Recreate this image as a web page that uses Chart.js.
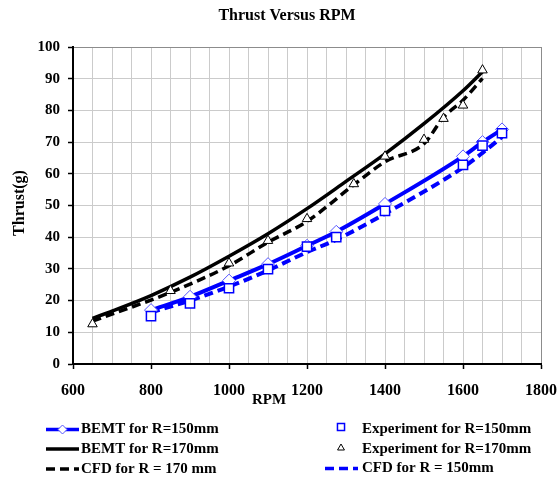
<!DOCTYPE html>
<html>
<head>
<meta charset="utf-8">
<title>Thrust Versus RPM</title>
<script src="https://cdn.jsdelivr.net/npm/chart.js@4.4.1/dist/chart.umd.min.js"></script>
<style>
  html, body { margin: 0; padding: 0; background: #fff; }
  #wrap { width: 558px; height: 480px; }
</style>
</head>
<body>
<div id="wrap"><canvas id="thrustChart" width="558" height="480"></canvas></div>
<script>
// values
const rpm150 = [800, 900, 1000, 1100, 1200, 1275, 1400, 1600, 1650, 1700];
const bemt150 = [17.0, 21.2, 26.3, 31.5, 37.3, 41.7, 50.5, 65.5, 70.0, 74.0];
const exp150 = [15.1, 19.1, 23.9, 29.9, 37.0, 40.0, 48.3, 62.8, 68.9, 72.8];
const cfd150 = [16.3, 20.0, 24.4, 29.5, 35.3, 39.2, 47.4, 62.0, 66.6, 71.6];

const rpmBemt170 = [650, 700, 800, 900, 1000, 1100, 1200, 1300, 1400, 1500, 1600, 1650];
const bemt170 = [14.4, 16.7, 21.6, 27.4, 34.0, 41.1, 49.0, 57.6, 66.3, 75.8, 86.2, 92.2];

const rpm170 = [650, 850, 1000, 1100, 1200, 1320, 1400, 1500, 1550, 1600, 1650];
const exp170 = [12.6, 23.1, 31.8, 38.9, 45.8, 56.8, 65.5, 70.8, 77.4, 81.6, 92.7];
const cfd170 = [13.5, 22.6, 31.0, 38.4, 45.0, 56.5, 63.8, 69.5, 77.8, 83.2, 90.1];

const xLabels = [600, 800, 1000, 1200, 1400, 1600, 1800];
const chartTitle = 'Thrust Versus RPM';
const xTitle = 'RPM';
const yTitle = 'Thrust(g)';

const serif = '"Liberation Serif", "Times New Roman", serif';
const pts = (xs, ys) => xs.map((x, i) => ({x: x, y: ys[i]}));

// legend slots, same order as datasets
const legendSlots = [
  {x: 46, y: 429.5, mx: 62.5, tx: 81},
  {x: 0, y: 429.5, mx: 341, my: 427, tx: 362},
  {x: 46, y: 449, tx: 81},
  {x: 0, y: 449, mx: 341, my: 448, tx: 362},
  {x: 46, y: 469, tx: 81},
  {x: 325, y: 468.5, tx: 362}
];

const textLayer = {
  id: 'textLayer',
  afterDraw(chart) {
    const ctx = chart.ctx;
    ctx.save();
    ctx.fillStyle = '#000';
    ctx.textBaseline = 'middle';
    ctx.textAlign = 'center';
    ctx.font = 'bold 16px ' + serif;
    ctx.fillText(chartTitle, 287, 16);
    ctx.font = 'bold 15px ' + serif;
    ctx.fillText(xTitle, 269, 400);
    ctx.save();
    ctx.translate(20, 203);
    ctx.rotate(-Math.PI / 2);
    ctx.font = 'bold 16px ' + serif;
    ctx.fillText(yTitle, 0, 0);
    ctx.restore();

    // legend
    chart.data.datasets.forEach((ds, i) => {
      const s = legendSlots[i];
      if (ds.showLine !== false) {
        ctx.save();
        ctx.strokeStyle = ds.borderColor;
        ctx.lineWidth = 3.5;
        ctx.setLineDash(ds.borderDash || []);
        ctx.beginPath();
        ctx.moveTo(s.x, s.y);
        ctx.lineTo(s.x + 33, s.y);
        ctx.stroke();
        ctx.restore();
      }
      if (ds.pointRadius > 0) {
        ctx.save();
        ctx.fillStyle = ds.pointBackgroundColor;
        ctx.strokeStyle = ds.pointBorderColor;
        ctx.lineWidth = ds.pointBorderWidth;
        Chart.helpers.drawPoint(ctx, {
          pointStyle: ds.pointStyle,
          radius: ds.legendRadius,
          rotation: 0,
          borderWidth: ds.pointBorderWidth
        }, s.mx, s.my || s.y);
        ctx.restore();
      }
      ctx.textAlign = 'left';
      ctx.font = 'bold 15px ' + serif;
      ctx.fillText(ds.label, s.tx, s.y);
    });
    ctx.restore();
  }
};

new Chart(document.getElementById('thrustChart'), {
  type: 'line',
  data: {
    datasets: [
      {
        label: 'BEMT for R=150mm',
        data: pts(rpm150, bemt150),
        borderColor: '#0000ff',
        borderWidth: 4,
        pointStyle: 'rectRot',
        pointRadius: 6.5,
        legendRadius: 4.5,
        pointBackgroundColor: '#ffffff',
        pointBorderColor: '#5555ff',
        pointBorderWidth: 1,
        cubicInterpolationMode: 'monotone',
        order: 3
      },
      {
        label: 'Experiment for R=150mm',
        data: pts(rpm150, exp150),
        showLine: false,
        pointStyle: 'rect',
        pointRadius: 6.5,
        legendRadius: 5,
        pointBackgroundColor: '#ffffff',
        pointBorderColor: '#0000ff',
        pointBorderWidth: 1.5,
        order: 1
      },
      {
        label: 'BEMT for R=170mm',
        data: pts(rpmBemt170, bemt170),
        borderColor: '#000000',
        borderWidth: 3.5,
        pointRadius: 0,
        cubicInterpolationMode: 'monotone',
        order: 4
      },
      {
        label: 'Experiment for R=170mm',
        data: pts(rpm170, exp170),
        showLine: false,
        pointStyle: 'triangle',
        pointRadius: 5.5,
        legendRadius: 4,
        pointBackgroundColor: '#ffffff',
        pointBorderColor: '#000000',
        pointBorderWidth: 1,
        order: 2
      },
      {
        label: 'CFD for R = 170 mm',
        data: pts(rpm170, cfd170),
        borderColor: '#000000',
        borderWidth: 3.5,
        borderDash: [9, 5],
        pointRadius: 0,
        cubicInterpolationMode: 'monotone',
        order: 5
      },
      {
        label: 'CFD for R = 150mm',
        data: pts(rpm150, cfd150),
        borderColor: '#0000ff',
        borderWidth: 4,
        borderDash: [9, 5],
        pointRadius: 0,
        cubicInterpolationMode: 'monotone',
        order: 6
      }
    ]
  },
  options: {
    responsive: false,
    animation: false,
    devicePixelRatio: 1,
    layout: {padding: {top: 47, right: 17, bottom: 76, left: 0}},
    plugins: {
      legend: {display: false},
      title: {display: false},
      tooltip: {enabled: false}
    },
    scales: {
      x: {
        type: 'linear',
        min: 600,
        max: 1800,
        afterFit: (scale) => {
          scale.height = 40;
          scale.paddingLeft = 0;
          scale.paddingRight = 0;
        },
        border: {color: '#000', width: 2},
        grid: {
          color: (c) => c.tick && Math.round(c.tick.value) === 1800 ? '#8c8c8c' : '#cbcbcb',
          lineWidth: 1,
          tickLength: 5,
          tickWidth: 1.5,
          tickColor: (c) => c.tick && xLabels.includes(Math.round(c.tick.value)) ? '#000' : 'rgba(0,0,0,0)'
        },
        ticks: {
          stepSize: 50,
          autoSkip: false,
          maxRotation: 0,
          padding: 12,
          color: '#000',
          font: {family: serif, size: 16, weight: 'bold'},
          callback: (v) => xLabels.includes(Math.round(v)) ? String(Math.round(v)) : ''
        }
      },
      y: {
        min: 0,
        max: 100,
        afterFit: (scale) => {
          scale.width = 73;
          scale.paddingTop = 0;
          scale.paddingBottom = 0;
        },
        border: {color: '#000', width: 2},
        grid: {
          color: (c) => c.tick && c.tick.value === 100 ? '#8c8c8c' : '#cbcbcb',
          lineWidth: 1,
          tickLength: 5,
          tickWidth: 1.5,
          tickColor: '#000'
        },
        ticks: {
          stepSize: 10,
          padding: 8,
          color: '#000',
          font: {family: serif, size: 15, weight: 'bold'}
        }
      }
    }
  },
  plugins: [textLayer]
});
</script>
</body>
</html>
